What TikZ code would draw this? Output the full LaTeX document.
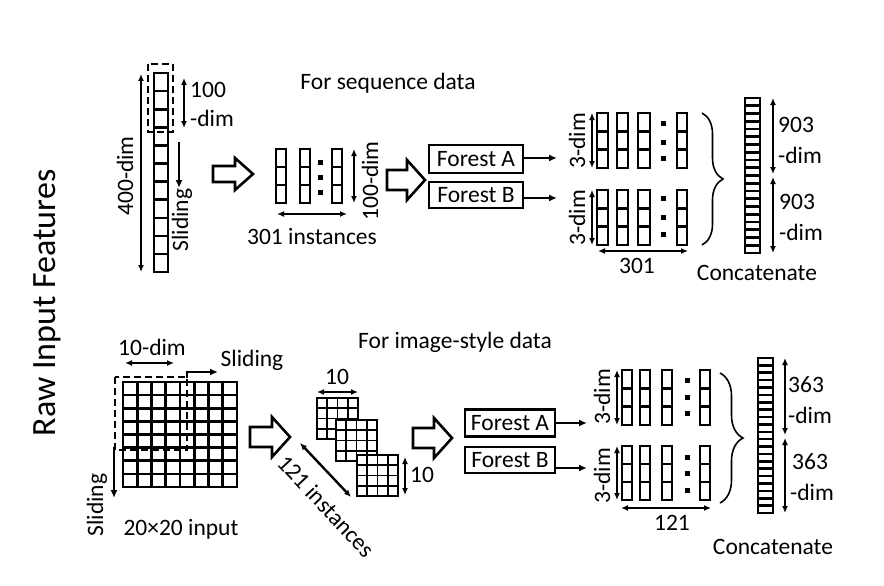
\documentclass[tikz,border=0pt]{standalone}
\usepackage{fontspec}
\setmainfont{Carlito}
\usetikzlibrary{arrows.meta,decorations.pathreplacing,calc}

\newcommand{\vcells}[5]{% x, ytop, width, cellh, n
  \foreach \k in {1,...,#5} {\draw[cellline] (#1,{#2+(\k-1)*#4}) rectangle ++(#3,#4);}}
\newcommand{\gridcells}[7]{% x, ytop, cw, ch, nx, ny, style
  \fill[white] (#1,#2) rectangle ++({#5*#3},{#6*#4});
  \foreach \i in {1,...,#5} {\foreach \j in {1,...,#6} {\draw[#7] ({#1+(\i-1)*#3},{#2+(\j-1)*#4}) rectangle ++(#3,#4);}}}
\newcommand{\hollowarrow}[5]{% x, yc, shaft length, head length, half height
  \draw[hollow] (#1,{#2-#5/2}) -- ++(#3,0) -- ++(0,{-#5/2}) -- ++(#4,#5) -- ++({-#4},#5) -- ++(0,{-#5/2}) -- ++({-#3},0) -- cycle;}
\newcommand{\dotsq}[2]{\fill (#1-2.5,#2-2.5) rectangle ++(5,5);}

\begin{document}
\begin{tikzpicture}[x=1pt,y=-1pt,
  cellline/.style={line width=2.6pt},
  thincell/.style={line width=1.8pt},
  dimarr/.style={line width=2.4pt,{Latex[length=7pt,width=6pt]}-{Latex[length=7pt,width=6pt]}},
  onearr/.style={line width=2.4pt,-{Latex[length=8pt,width=7pt]}},
  hollow/.style={line width=2.6pt,fill=white,line join=miter},
  txt/.style={font=\fontsize{23.5}{27}\selectfont,inner sep=0pt},
  forestbox/.style={draw,line width=2.4pt,font=\fontsize{23.5}{27}\selectfont,inner sep=0pt},
  window/.style={line width=2.6pt,dash pattern=on 7pt off 4pt},
  bracestyle/.style={line width=1.6pt,decorate,decoration={brace,amplitude=21pt}}]
\useasboundingbox (0,0) rectangle (884,586);

% ---------------- left title
\node[inner sep=0pt,font=\fontsize{34}{38}\selectfont,rotate=90] (title) at (47,303) {Raw Input Features};

% ================= TOP: sequence data
\node[txt] (seqtitle) at (388,83) {For sequence data};

% long input column
\vcells{154}{73}{14}{18.1}{11}
\draw[window] (148,64) rectangle (173,132);
\coordinate (l400t) at (141,74); \coordinate (l400b) at (141,272);
\draw[dimarr] (l400t) -- (l400b);
\node[txt,rotate=90] (t400) at (125,176) {400-dim};
\coordinate (d100t) at (184,78); \coordinate (d100b) at (184,128);
\draw[dimarr] (d100t) -- (d100b);
\node[txt,anchor=west] (t100a) at (190,90) {100};
\node[txt,anchor=west] (t100b) at (190,118) {-dim};
\coordinate (slt) at (179,142); \coordinate (slb) at (179,188);
\draw[onearr] (slt) -- (slb);
\node[txt,rotate=90] (tsl1) at (182,220) {Sliding};

\hollowarrow{213}{174}{22}{18}{16}

% 301 instances
\vcells{276}{149}{10}{18}{3}
\vcells{300}{149}{10}{18}{3}
\vcells{332}{149}{10}{18}{3}
\dotsq{320}{162}\dotsq{320}{177}\dotsq{320}{192}
\coordinate (i301l) at (277,214); \coordinate (i301r) at (347,214);
\draw[dimarr] (i301l) -- (i301r);
\node[txt] (t301i) at (312,237) {301 instances};
\coordinate (v100t) at (354,149); \coordinate (v100b) at (354,203);
\draw[dimarr] (v100t) -- (v100b);
\node[txt,rotate=90] (t100dim) at (370,181) {100-dim};

\hollowarrow{387}{180}{20}{18}{20}

% forests
\node[forestbox,minimum width=94pt,minimum height=28pt] (fa1) at (476,159) {Forest A};
\node[forestbox,minimum width=94pt,minimum height=26pt] (fb1) at (476,195) {Forest B};
\coordinate (fa1o) at (557,158); \coordinate (fb1o) at (557,198);
\draw[onearr] (fa1.east |- fa1o) -- (fa1o);
\draw[onearr] (fb1.east |- fb1o) -- (fb1o);

% outputs
\foreach \xx/\ww in {597/11,617/11,638/12,677/10} {
  \vcells{\xx}{113}{\ww}{18.3}{3}
  \vcells{\xx}{190}{\ww}{18.3}{3}
}
\dotsq{663}{123}\dotsq{663}{142}\dotsq{663}{158}
\dotsq{663}{198}\dotsq{663}{217}\dotsq{663}{234}
\coordinate (t3at) at (592,113); \coordinate (t3ab) at (592,168);
\coordinate (t3bt) at (592,190); \coordinate (t3bb) at (592,245);
\draw[dimarr] (t3at) -- (t3ab);
\draw[dimarr] (t3bt) -- (t3bb);
\node[txt,rotate=90] (t3a) at (577,141) {3-dim};
\node[txt,rotate=90] (t3b) at (577,218) {3-dim};
\coordinate (h301l) at (598,251); \coordinate (h301r) at (688,251);
\draw[dimarr] (h301l) -- (h301r);
\node[txt] (t301) at (637,266) {301};

\draw[bracestyle] (702,113) -- (702,245);
\vcells{745}{98}{15}{7.75}{20}
\coordinate (c903a) at (773,98); \coordinate (c903m1) at (773,174);
\coordinate (c903m2) at (773,177); \coordinate (c903b) at (773,253);
\draw[dimarr] (c903a) -- (c903m1);
\draw[dimarr] (c903m2) -- (c903b);
\node[txt,anchor=west] (t903a) at (778,125) {903};
\node[txt,anchor=west] (t903b) at (778,155) {-dim};
\node[txt,anchor=west] (t903c) at (779,202) {903};
\node[txt,anchor=west] (t903d) at (779,232) {-dim};
\node[txt] (tcat1) at (757,273) {Concatenate};

% ================= BOTTOM: image-style data
\node[txt] (imgtitle) at (455,342) {For image-style data};

\gridcells{123}{382}{14.25}{13.125}{8}{8}{cellline}
\draw[window] (115,377) rectangle (187,450);
\coordinate (g10l) at (125,363); \coordinate (g10r) at (174,363);
\draw[dimarr] (g10l) -- (g10r);
\node[txt] (t10dim) at (152,347) {10-dim};
\coordinate (srs) at (187,378); \coordinate (sre) at (218,372);
\draw[onearr] (srs) |- (sre);
\node[txt] (tsl2) at (252,360) {Sliding};
\coordinate (sds) at (114,447); \coordinate (sde) at (114,498);
\draw[onearr] (sds) -- (sde);
\node[txt,rotate=90] (tsl3) at (97,505) {Sliding};
\node[txt] (t2020) at (181,529) {20×20 input};

\hollowarrow{250}{437}{22}{18}{20}

% small grids
\gridcells{317}{398}{10.25}{10.25}{4}{4}{thincell}
\gridcells{336}{420}{10.25}{10.25}{4}{4}{thincell}
\gridcells{357}{455}{10.25}{10.25}{4}{4}{thincell}
\coordinate (s10l) at (317,392); \coordinate (s10r) at (358,392);
\draw[dimarr] (s10l) -- (s10r);
\node[txt] (t10a) at (337,377) {10};
\coordinate (s10t) at (405,457); \coordinate (s10b) at (405,495);
\draw[dimarr] (s10t) -- (s10b);
\node[txt,anchor=west] (t10b) at (410,475) {10};
\coordinate (d121a) at (300,443); \coordinate (d121b) at (351,497);
\draw[dimarr] (d121a) -- (d121b);
\node[txt,rotate=-47] (t121i) at (326,506) {121 instances};

\hollowarrow{413}{438}{21}{18}{20}

\node[forestbox,minimum width=90pt,minimum height=27pt] (fa2) at (510,423) {Forest A};
\node[forestbox,minimum width=90pt,minimum height=26pt] (fb2) at (510,460) {Forest B};
\coordinate (fa2o) at (587,423); \coordinate (fb2o) at (587,468);
\draw[onearr] (fa2.east |- fa2o) -- (fa2o);
\draw[onearr] (fb2.east |- fb2o) -- (fb2o);

\foreach \xx in {622,640,662,700} {
  \vcells{\xx}{370}{10}{18.3}{3}
  \vcells{\xx}{446}{10}{18}{3}
}
\dotsq{687}{380}\dotsq{687}{397}\dotsq{687}{413}
\dotsq{687}{457}\dotsq{687}{473}\dotsq{687}{490}
\coordinate (b3at) at (617,370); \coordinate (b3ab) at (617,425);
\coordinate (b3bt) at (617,446); \coordinate (b3bb) at (617,500);
\draw[dimarr] (b3at) -- (b3ab);
\draw[dimarr] (b3bt) -- (b3bb);
\node[txt,rotate=90] (b3a) at (602,397) {3-dim};
\node[txt,rotate=90] (b3b) at (602,476) {3-dim};
\coordinate (h121l) at (621,508); \coordinate (h121r) at (711,508);
\draw[dimarr] (h121l) -- (h121r);
\node[txt] (t121) at (672,523) {121};

\draw[bracestyle,decoration={brace,amplitude=23pt}] (720,373) -- (720,503);
\vcells{758}{358}{15}{7.38}{21}
\coordinate (c363a) at (785,358); \coordinate (c363m1) at (785,435);
\coordinate (c363m2) at (785,438); \coordinate (c363b) at (785,513);
\draw[dimarr] (c363a) -- (c363m1);
\draw[dimarr] (c363m2) -- (c363b);
\node[txt,anchor=west] (t363a) at (788,385) {363};
\node[txt,anchor=west] (t363b) at (788,415) {-dim};
\node[txt,anchor=west] (t363c) at (792,462) {363};
\node[txt,anchor=west] (t363d) at (790,492) {-dim};
\node[txt] (tcat2) at (773,547) {Concatenate};
\end{tikzpicture}
\end{document}
